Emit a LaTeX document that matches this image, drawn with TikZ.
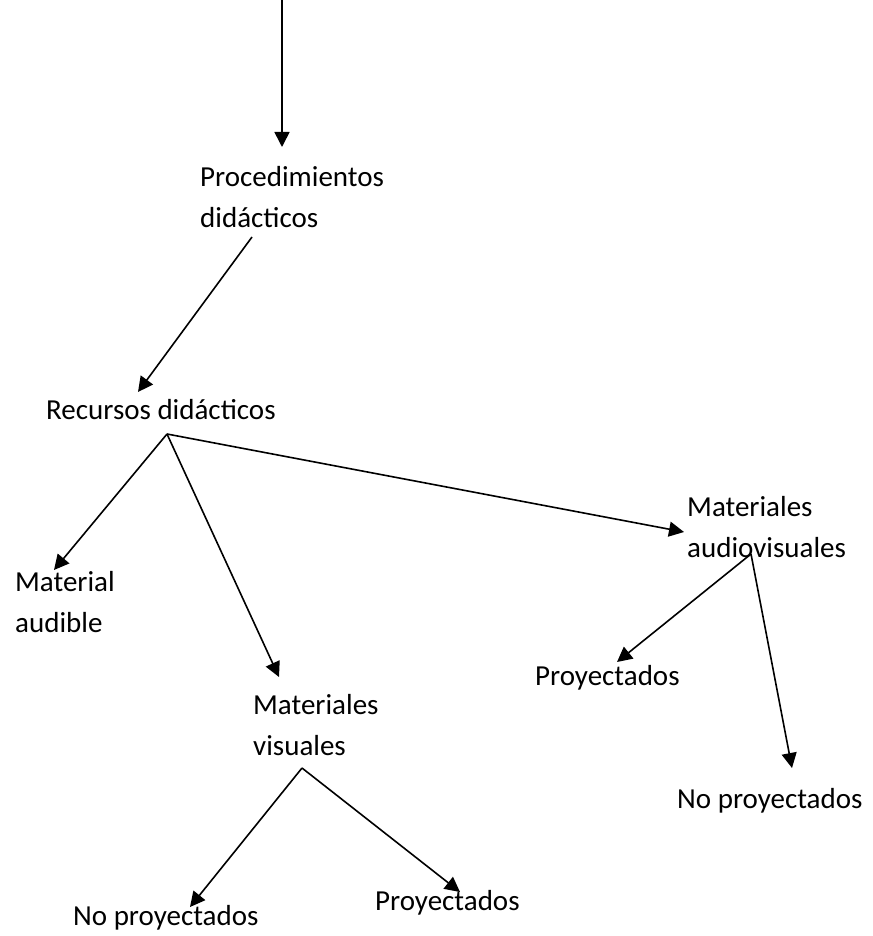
\documentclass[tikz,border=0pt]{standalone}
\usepackage{fontspec}
\setmainfont{Carlito}
\usetikzlibrary{arrows.meta}
\begin{document}
\begin{tikzpicture}[x=1pt,y=-1pt,
  lbl/.style={anchor=base west, inner sep=0pt, align=left, font=\fontsize{29}{41}\selectfont},
  arr/.style={line width=1.6pt, -{Triangle[length=15pt,width=15pt]}}]
\useasboundingbox (0,0) rectangle (872,936);
% labels (base = baseline of the last line)
\node[lbl] (proc) at (200,227) {Procedimientos\\didácticos};
\node[lbl] (rec) at (46,419) {Recursos didácticos};
\node[lbl] (aud) at (15,632) {Material\\audible};
\node[lbl] (vis) at (253,755) {Materiales\\visuales};
\node[lbl] (av) at (687,557) {Materiales\\audiovisuales};
\node[lbl] (avp) at (535,685) {Proyectados};
\node[lbl] (avnp) at (677,808) {No proyectados};
\node[lbl] (vnp) at (73,925) {No proyectados};
\node[lbl] (vp) at (375,910) {Proyectados};
% connector points
\coordinate (top) at (282,0);
\coordinate (proc-in) at (282,147);
\coordinate (proc-out) at (252,237);
\coordinate (rec-in) at (138,392);
\coordinate (rec-out) at (167,434);
\coordinate (aud-in) at (54,570);
\coordinate (vis-in) at (279,677);
\coordinate (av-in) at (684,532);
\coordinate (av-out) at (751,554);
\coordinate (avp-in) at (617,662);
\coordinate (avnp-in) at (792,768);
\coordinate (vis-out) at (302,768);
\coordinate (vnp-in) at (190,907);
\coordinate (vp-in) at (460,892);
% connectors
\draw[arr] (top) -- (proc-in);
\draw[arr] (proc-out) -- (rec-in);
\draw[arr] (rec-out) -- (aud-in);
\draw[arr] (rec-out) -- (vis-in);
\draw[arr] (rec-out) -- (av-in);
\draw[arr] (av-out) -- (avp-in);
\draw[arr] (av-out) -- (avnp-in);
\draw[arr] (vis-out) -- (vnp-in);
\draw[arr] (vis-out) -- (vp-in);
\end{tikzpicture}
\end{document}
